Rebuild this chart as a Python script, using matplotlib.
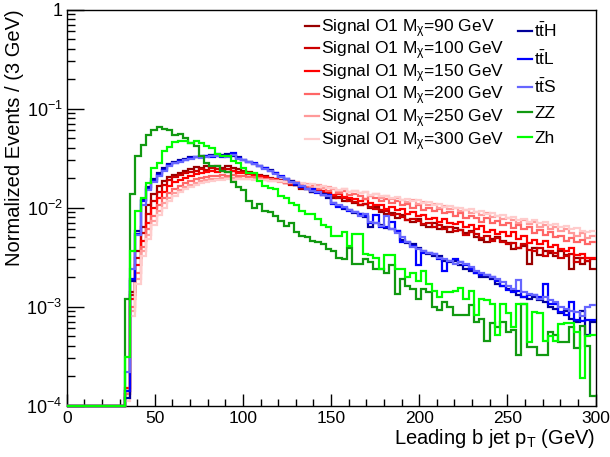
import numpy as np
import matplotlib
matplotlib.use("Agg")
import matplotlib.pyplot as plt
from matplotlib.lines import Line2D

plt.rcParams['font.family'] = ['Liberation Sans', 'DejaVu Sans']
plt.rcParams['mathtext.fontset'] = 'custom'
plt.rcParams['mathtext.rm'] = 'Liberation Sans'
plt.rcParams['mathtext.it'] = 'Liberation Sans:italic'
plt.rcParams['mathtext.bf'] = 'Liberation Sans:bold'

# ---------------- data (normalized events per 3 GeV bin, in units of 1e-3) ----------------
bin_width = 3.0
n_bins = 100
first_bin = 11          # bins 0..10 (0-33 GeV) are empty

sig_m90 = [0.13, 1.4, 3.6, 6.3, 10.5, 13.6, 16.5, 18.5, 20.5, 21.5,
           22.5, 23.5, 24.3, 25.5, 25.0, 26.3, 25.5, 26.0, 25.0, 26.5,
           25.0, 24.5, 23.5, 23.0, 22.0, 21.5, 21.0, 20.0, 19.5,
           19.0, 17.6, 17.2, 16.8, 15.4, 15.3, 14.2, 14.6, 13.5, 13.9,
           12.6, 12.8, 11.5, 11.9, 11.0, 10.6, 10.9, 9.8, 10.2, 9.0,
           8.6, 8.9, 7.9, 8.4, 7.5, 7.2, 7.6, 6.6, 6.4, 6.9,
           6.0, 6.4, 5.7, 6.2, 5.9, 5.5, 5.8, 5.0, 4.7, 4.5,
           4.8, 5.0, 4.6, 4.4, 3.8, 3.9, 4.1, 2.7, 3.9, 3.3,
           3.6, 3.5, 3.2, 3.6, 3.3, 2.4, 3.1, 2.7, 2.9, 2.4]
sig_m100 = [0.14, 1.3, 3.1, 5.5, 8.5, 11.5, 14.5, 17.0, 19.0, 20.5,
            21.5, 22.5, 23.0, 23.5, 24.5, 24.0, 25.0, 24.5, 24.0, 24.5,
            23.5, 23.0, 23.0, 22.0, 21.5, 21.0, 20.0, 19.5, 19.0,
            18.5, 18.3, 16.9, 16.8, 15.8, 15.6, 14.7, 14.5, 14.1, 13.3,
            13.2, 12.4, 12.4, 11.6, 11.4, 10.6, 10.8, 10.1, 9.6, 9.4,
            9.2, 8.4, 8.6, 8.1, 7.5, 7.7, 7.3, 6.8, 7.0, 6.4,
            6.7, 6.0, 6.4, 5.8, 5.9, 5.3, 5.6, 5.4, 4.9, 5.1,
            4.6, 4.9, 4.5, 4.3, 4.4, 3.9, 4.3, 3.7, 3.6, 3.9,
            3.2, 3.6, 3.5, 3.1, 3.2, 3.4, 2.8, 3.1, 2.9, 3.0]
sig_m150 = [0.15, 1.2, 2.6, 4.6, 7.0, 10.0, 12.5, 14.5, 16.5, 18.0,
            19.0, 20.0, 21.0, 22.0, 22.5, 23.0, 23.5, 23.0, 23.5, 23.0,
            23.5, 22.5, 22.5, 22.0, 21.0, 21.0, 20.5, 19.5, 19.5,
            18.5, 17.8, 17.6, 16.7, 17.1, 15.8, 15.7, 14.8, 14.6, 14.3,
            13.5, 13.6, 12.8, 12.6, 12.3, 11.6, 12.1, 11.0, 10.6, 10.5,
            9.7, 10.1, 9.4, 9.6, 8.6, 9.0, 8.3, 8.4, 7.6, 7.9,
            7.2, 7.7, 7.0, 6.8, 7.1, 6.4, 6.6, 6.1, 6.5, 5.7,
            5.9, 5.4, 5.6, 5.2, 5.6, 4.8, 5.2, 4.4, 4.7, 4.3,
            4.6, 4.0, 4.2, 3.8, 3.6, 3.9, 3.3, 3.4, 3.1, 3.1]
sig_m200 = [0.13, 1.0, 2.2, 4.0, 6.0, 8.3, 10.5, 12.5, 14.0, 15.5,
            16.5, 17.5, 18.5, 19.3, 20.0, 20.5, 21.0, 21.0, 21.5, 21.0,
            21.5, 21.0, 21.0, 20.5, 20.5, 20.0, 19.5, 19.5, 19.0,
            18.5, 17.6, 18.4, 17.0, 17.3, 16.1, 16.6, 15.4, 15.9, 14.6,
            15.3, 14.0, 14.6, 13.4, 13.8, 13.0, 12.2, 13.0, 12.4, 11.6,
            12.3, 11.0, 11.6, 10.5, 10.9, 10.0, 10.6, 9.4, 9.9, 9.2,
            9.6, 8.7, 9.0, 8.3, 8.8, 7.8, 8.2, 7.9, 7.2, 7.8,
            7.0, 7.3, 6.6, 7.0, 6.2, 6.6, 6.0, 6.3, 5.5, 5.9,
            5.3, 5.6, 5.0, 5.2, 4.6, 4.9, 4.5, 4.7, 4.3, 4.5]
sig_m250 = [0.12, 0.9, 1.9, 3.6, 5.3, 7.3, 9.3, 11.0, 12.5, 14.0,
            15.0, 16.0, 17.0, 17.8, 18.5, 19.0, 19.3, 19.5, 19.7, 20.0,
            19.8, 20.0, 19.6, 19.5, 19.3, 19.2, 19.0, 18.6, 18.5,
            18.2, 18.4, 17.5, 17.9, 16.9, 17.2, 16.2, 16.8, 15.6, 16.0,
            15.4, 14.7, 15.3, 14.2, 14.6, 13.9, 14.3, 13.2, 13.6, 12.6,
            13.1, 12.2, 12.6, 11.8, 11.3, 11.9, 10.9, 11.3, 10.5, 10.9,
            10.0, 10.4, 9.6, 9.9, 9.2, 9.5, 8.8, 9.1, 8.4, 8.8,
            8.0, 8.3, 7.6, 7.9, 7.5, 7.0, 7.4, 6.8, 7.1, 6.4,
            6.7, 6.1, 6.3, 5.8, 6.0, 5.5, 5.2, 5.5, 4.9, 5.1]
sig_m300 = [0.11, 0.8, 1.7, 3.2, 4.8, 6.6, 8.4, 10.0, 11.6, 13.0,
            14.2, 15.2, 16.0, 16.8, 17.5, 18.0, 18.4, 18.8, 19.0, 19.2,
            19.1, 19.3, 19.2, 19.3, 19.1, 19.0, 18.9, 18.7, 18.6,
            18.6, 18.0, 18.3, 17.4, 17.6, 16.8, 17.1, 16.2, 16.4, 15.6,
            15.9, 15.0, 15.3, 14.5, 14.8, 14.0, 14.3, 13.5, 13.8, 13.0,
            13.2, 12.5, 12.8, 12.0, 12.2, 11.5, 11.8, 11.0, 11.3, 10.6,
            10.9, 10.2, 10.4, 9.8, 10.0, 9.4, 9.6, 9.0, 9.2, 8.6,
            8.8, 8.2, 8.4, 7.8, 8.1, 7.5, 7.7, 7.2, 7.4, 6.9,
            7.1, 6.6, 6.8, 6.3, 6.5, 6.0, 6.2, 5.8, 5.6, 5.8]
tth = [0.12, 1.8, 5.8, 12.0, 16.0, 19.5, 22.5, 25.0, 27.5, 29.0,
       30.0, 31.0, 32.0, 32.5, 33.0, 33.5, 34.0, 33.5, 34.0, 35.0,
       33.0, 32.0, 30.0, 29.0, 27.5, 26.0, 25.0, 24.0, 22.5, 20.5,
       19.5, 18.5, 17.0, 16.0, 15.5, 14.5, 14.2, 13.8, 12.5, 11.0,
       10.3, 9.6, 9.4, 8.8, 8.5, 8.0, 6.3, 7.0, 6.6, 6.2,
       6.0, 5.8, 4.7, 4.4, 4.3, 3.9, 3.6, 3.4, 3.2, 3.2,
       2.9, 2.8, 2.9, 2.6, 2.4, 2.3, 2.2, 2.0, 2.0, 1.9,
       1.7, 1.6, 1.5, 1.45, 1.3, 1.25, 1.2, 1.25, 1.15, 1.1,
       1.0, 0.95, 0.85, 0.9, 0.75, 0.7, 0.9, 0.52, 0.7]
ttl = [0.14, 1.9, 5.4, 11.5, 15.5, 18.5, 21.5, 24.0, 27.0, 28.0,
       29.5, 30.5, 31.5, 32.0, 32.0, 33.0, 32.5, 34.5, 32.0, 33.0,
       35.5, 31.5, 30.5, 28.5, 28.0, 26.5, 25.0, 23.5, 22.5, 21.0,
       19.5, 18.0, 17.3, 16.2, 15.5, 15.2, 14.1, 13.4, 13.4, 10.8,
       10.2, 10.0, 9.3, 9.0, 8.6, 8.3, 7.0, 8.4, 6.3, 6.3,
       7.1, 5.8, 4.5, 4.5, 4.1, 2.6, 3.5, 3.5, 3.4, 3.0,
       2.3, 2.9, 3.0, 2.8, 2.6, 2.4, 2.2, 2.1, 2.1, 2.0,
       1.8, 1.6, 1.46, 1.4, 1.45, 1.25, 1.3, 1.3, 1.25, 1.7,
       1.07, 1.05, 0.88, 0.82, 1.1, 0.73, 0.72, 0.73, 0.73]
tts = [0.22, 2.4, 5.3, 10.5, 15.0, 18.0, 21.0, 23.5, 26.0, 28.0,
       29.0, 30.0, 31.0, 32.0, 31.5, 32.5, 33.5, 33.0, 33.5, 32.5,
       34.0, 31.0, 30.5, 29.0, 27.5, 26.5, 24.5, 23.5, 22.0, 20.5,
       19.5, 18.3, 17.5, 16.5, 15.5, 14.8, 14.3, 13.5, 13.0, 11.2,
       10.5, 10.1, 9.5, 9.0, 8.3, 8.6, 7.2, 7.0, 6.5, 8.3,
       6.1, 5.5, 5.0, 4.5, 4.0, 3.8, 3.6, 3.5, 3.4, 3.1,
       3.0, 2.9, 2.7, 2.8, 2.7, 2.5, 2.3, 2.2, 2.1, 2.0,
       1.9, 1.75, 1.6, 1.5, 1.85, 1.4, 1.35, 1.3, 1.2, 1.25,
       1.15, 1.1, 0.98, 0.95, 0.9, 0.88, 0.8, 1.0, 1.03]
zz = [1.2, 13.8, 33.0, 43.0, 54.0, 61.0, 64.5, 62.0, 61.0, 53.5,
      55.0, 50.5, 45.0, 42.0, 33.5, 28.3, 26.3, 26.3, 23.4, 23.0,
      18.0, 16.0, 15.0, 11.7, 10.0, 10.9, 9.3, 9.1, 8.3, 7.3,
      6.5, 6.9, 5.6, 5.2, 5.0, 4.6, 4.5, 4.3, 3.8, 3.6,
      3.1, 3.0, 3.9, 2.7, 2.7, 3.0, 2.8, 2.4, 2.4, 2.2,
      2.6, 1.35, 1.9, 1.6, 1.5, 1.2, 1.5, 1.4, 1.0, 0.93,
      1.1, 1.0, 0.82, 0.82, 0.82, 1.03, 0.70, 0.75, 0.45, 0.68,
      0.62, 0.70, 0.55, 0.58, 0.32, 1.05, 0.39, 0.39, 0.32, 0.32,
      0.55, 0.52, 0.44, 0.44, 0.62, 0.38, 0.64, 0.40, 0.125]
zh = [0.31, 3.6, 9.3, 12.5, 17.5, 25.0, 28.0, 37.0, 41.0, 46.0,
      46.5, 47.5, 45.0, 47.0, 45.0, 42.0, 40.0, 34.5, 33.0, 33.5,
      29.5, 28.0, 25.0, 22.5, 22.5, 18.5, 16.5, 15.9, 15.5, 13.1,
      12.6, 11.2, 10.5, 9.3, 8.6, 8.6, 7.6, 6.6, 6.3, 5.2,
      5.2, 5.6, 4.1, 5.4, 5.4, 3.4, 3.3, 3.1, 2.4, 3.3,
      3.3, 2.4, 2.4, 2.0, 2.2, 1.8, 2.3, 1.7, 1.45, 1.25,
      1.4, 1.4, 1.45, 1.55, 1.2, 1.45, 0.82, 1.2, 1.15, 1.05,
      0.52, 1.05, 0.85, 0.62, 1.07, 1.05, 0.44, 0.88, 0.85, 0.45,
      0.50, 0.45, 0.67, 0.68, 0.68, 0.55, 0.19, 0.50, 0.52]

series = [
    (r'Signal O1 M$_{\mathrm{χ}}$=90 GeV', sig_m90, '#990000'),
    (r'Signal O1 M$_{\mathrm{χ}}$=100 GeV', sig_m100, '#cc0000'),
    (r'Signal O1 M$_{\mathrm{χ}}$=150 GeV', sig_m150, '#ff0000'),
    (r'Signal O1 M$_{\mathrm{χ}}$=200 GeV', sig_m200, '#ff6666'),
    (r'Signal O1 M$_{\mathrm{χ}}$=250 GeV', sig_m250, '#ff9999'),
    (r'Signal O1 M$_{\mathrm{χ}}$=300 GeV', sig_m300, '#ffcccc'),
    (r't$\mathrm{\bar{t}}$H', tth, '#000099'),
    (r't$\mathrm{\bar{t}}$L', ttl, '#0000ff'),
    (r't$\mathrm{\bar{t}}$S', tts, '#6666ff'),
    ('ZZ', zz, '#119911'),
    ('Zh', zh, '#00ff00'),
]

y_min, y_max = 1e-4, 1.0
edges = np.arange(n_bins + 1) * bin_width

W, H = 610, 457
fig = plt.figure(figsize=(W / 100, H / 100), dpi=100)
ax = fig.add_axes([66.7 / W, 1 - 405.5 / H, (595.5 - 66.7) / W, (405.5 - 9.5) / H])

handles = []
for label, vals, color in series:
    full = np.concatenate([np.zeros(first_bin), np.asarray(vals) * 1e-3])
    shown = np.where(full > 0, full, y_min)   # empty bins drawn on the frame bottom
    ax.stairs(shown, edges, baseline=None, color=color, lw=1.6, zorder=3, clip_on=False)
    handles.append(Line2D([], [], color=color, lw=1.6, label=label))

ax.set_yscale('log')
ax.set_ylim(y_min, y_max)
ax.set_xlim(0, 300)

ax.set_yticks([1e-4, 1e-3, 1e-2, 1e-1, 1])
ax.set_yticklabels([r'10$^{-4}$', r'10$^{-3}$', r'10$^{-2}$', r'10$^{-1}$', '1'])
ax.set_xticks([0, 50, 100, 150, 200, 250, 300])
ax.set_xticklabels(['0', '50', '100', '150', '200', '250', '300'])
ax.set_xticks(np.arange(0, 301, 10), minor=True)
ax.tick_params(axis='both', which='both', direction='in', labelsize=12.5, colors='black')
ax.tick_params(axis='y', which='major', length=12, width=1.0, pad=3, labelsize=13)
ax.tick_params(axis='y', which='minor', length=6, width=1.0)
ax.tick_params(axis='x', which='major', length=9, width=1.0, pad=4)
ax.tick_params(axis='x', which='minor', length=5, width=1.0)
for s in ax.spines.values():
    s.set_linewidth(1.0)

ax.set_xlabel(r'Leading b jet p$_{\mathrm{T}}$ (GeV)', fontsize=14.5, loc='right', labelpad=1)
ax.set_ylabel('Normalized Events / (3 GeV)', fontsize=14.5, loc='top', labelpad=2)

leg1 = ax.legend(handles=handles[:6], loc='upper left', bbox_to_anchor=(305 / W, 1 - 17 / H),
                 bbox_transform=fig.transFigure, frameon=False, fontsize=12.5,
                 handlelength=0.8, handletextpad=0.15, labelspacing=0.0, borderpad=0, borderaxespad=0)
ax.add_artist(leg1)
leg2 = ax.legend(handles=handles[6:], loc='upper left', bbox_to_anchor=(518 / W, 1 - 22 / H),
                 bbox_transform=fig.transFigure, frameon=False, fontsize=12.5,
                 handlelength=0.8, handletextpad=0.15, labelspacing=0.56, borderpad=0, borderaxespad=0)

fig.savefig('out.png', dpi=100)
